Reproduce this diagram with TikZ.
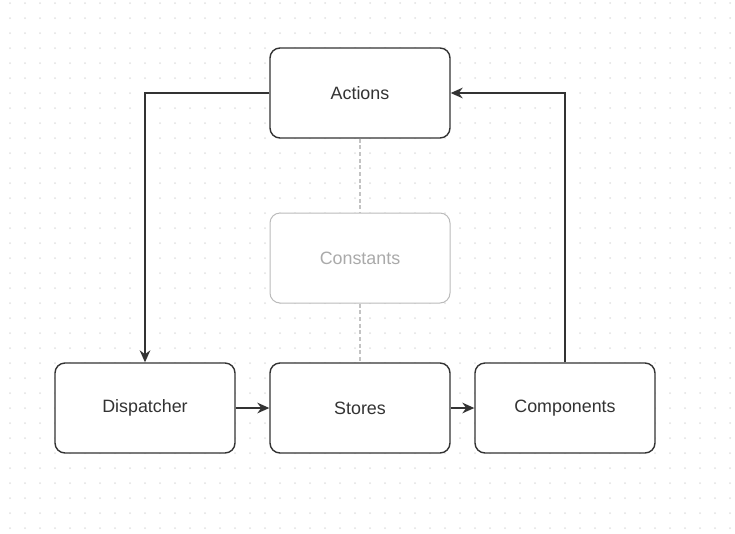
\documentclass[tikz,border=0pt]{standalone}
\usepackage{fontspec}
\setmainfont{Liberation Sans}
\usetikzlibrary{arrows.meta}
\definecolor{ink}{HTML}{333333}
\definecolor{faint}{HTML}{AAAAAA}
\definecolor{dotgrey}{HTML}{E2E2E2}
\tikzset{
  box/.style={draw=ink, line width=1.4pt*0.75, rounded corners=7.5pt, fill=white,
    minimum width=180*0.75pt, minimum height=90*0.75pt, text=ink,
    font=\fontsize{13.4}{16}\selectfont, inner sep=0pt},
  ghostbox/.style={box, draw=faint!80, text=faint, line width=1pt*0.75},
  flow/.style={draw=ink, line width=1.4pt*0.75, -{Stealth[length=9pt, width=8pt]}},
  link/.style={draw=faint!70, line width=0.8pt, dash pattern=on 3pt off 2pt}
}
\begin{document}
\begin{tikzpicture}[x=0.75pt, y=-0.75pt]
  % canvas
  \fill[white] (0,0) rectangle (735,533);
  \useasboundingbox (0,0) rectangle (735,533);
  % dotted grid
  \foreach \gx in {10,25,...,730} {
    \foreach \gy in {3,18,...,530} {
      \fill[dotgrey] (\gx,\gy) circle (0.75pt);
    }
  }
  % nodes
  \node[box] (actions) at (360,93) {Actions};
  \node[ghostbox] (constants) at (360,258) {Constants};
  \node[box] (dispatcher) at (145,408) {Dispatcher};
  \node[box] (stores) at (360,408) {Stores};
  \node[box] (components) at (565,408) {Components};
  % dependency links
  \draw[link] (actions.south) -- (constants.north);
  \draw[link] (constants.south) -- (stores.north);
  % data flow
  \draw[flow] (actions.west) -| (dispatcher.north);
  \draw[flow] (dispatcher.east) -- (stores.west);
  \draw[flow] (stores.east) -- (components.west);
  \draw[flow] (components.north) |- (actions.east);
\end{tikzpicture}
\end{document}
